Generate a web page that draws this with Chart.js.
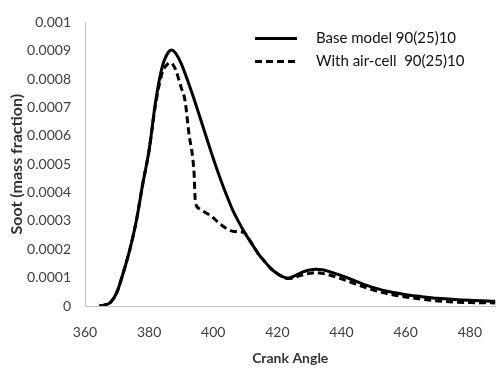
<!DOCTYPE html>
<html>
<head>
<meta charset="utf-8">
<script src="https://cdn.jsdelivr.net/npm/chart.js@4"></script>
<style>
  html, body { margin: 0; padding: 0; background: #fff; }
  #wrap { width: 500px; height: 369px; }
</style>
</head>
<body>
<div id="wrap"><canvas id="chart" width="500" height="369"></canvas></div>
<script>
// crank angle (deg) and soot mass fraction
const baseAngle = [364.5, 366, 368, 370, 372, 374, 376, 378, 380, 382, 384, 386, 387, 388, 390, 392, 394, 396, 398, 400, 402, 404, 406, 408, 410, 412, 414, 416, 418, 420, 422, 423, 424, 426, 428, 430, 432, 434, 436, 440, 445, 450, 455, 460, 465, 470, 475, 480, 488];
const baseSoot = [0, 0.000003, 0.000013, 0.00005, 0.00012, 0.0002, 0.0003, 0.00043, 0.00055, 0.00072, 0.00084, 0.000895, 0.000903, 0.000895, 0.000855, 0.000795, 0.00073, 0.00066, 0.00059, 0.00052, 0.000455, 0.000395, 0.00034, 0.000295, 0.000255, 0.00022, 0.000185, 0.000157, 0.000132, 0.000114, 0.000102, 0.000099, 0.0001, 0.00011, 0.00012, 0.000127, 0.00013, 0.000128, 0.000122, 0.000107, 0.000085, 0.000065, 0.00005, 0.00004, 0.000033, 0.000027, 0.000023, 0.00002, 0.000017];

const airAngle = [364.5, 366, 368, 370, 372, 374, 376, 378, 380, 382, 384, 385.5, 386.5, 388, 390, 391.2, 392.5, 393.4, 394, 394.4, 395.5, 397.5, 399.6, 402, 404.8, 406.5, 408.4, 410, 412, 414, 416, 418, 420, 422, 423, 424, 426, 428, 430, 432, 434, 436, 440, 445, 450, 455, 460, 465, 470, 475, 480, 488];
const airSoot = [0, 0.000003, 0.000013, 0.00005, 0.00012, 0.0002, 0.0003, 0.00043, 0.00055, 0.00071, 0.00082, 0.00085, 0.000858, 0.00084, 0.00077, 0.000724, 0.0006, 0.00054, 0.00047, 0.00037, 0.000344, 0.00033, 0.000315, 0.00029, 0.000269, 0.000263, 0.000262, 0.000255, 0.00022, 0.000185, 0.000157, 0.000132, 0.000114, 0.000101, 0.000097, 0.000097, 0.000103, 0.00011, 0.000115, 0.000118, 0.000115, 0.00011, 0.000096, 0.000075, 0.000056, 0.000042, 0.000032, 0.000024, 0.000018, 0.000014, 0.000012, 0.000011];

const seriesNames = ["Base model 90(25)10", "With air-cell  90(25)10"];
const xTicks = [360, 380, 400, 420, 440, 460, 480];

function toPoints(xs, ys) {
  return xs.map((x, i) => ({ x: x, y: ys[i] }));
}

// legend drawn inside the plot, top right, like the original
const innerLegend = {
  id: "innerLegend",
  afterDraw(chart) {
    const ctx = chart.ctx;
    const area = chart.chartArea;
    const x0 = area.left + 170;
    const y0 = area.top + 16;
    ctx.save();
    chart.data.datasets.forEach((ds, i) => {
      const y = y0 + i * 23;
      ctx.beginPath();
      ctx.lineWidth = ds.borderWidth;
      ctx.strokeStyle = ds.borderColor;
      ctx.setLineDash(ds.borderDash || []);
      ctx.moveTo(x0, y);
      ctx.lineTo(x0 + 42, y);
      ctx.stroke();
      ctx.setLineDash([]);
      ctx.fillStyle = "#111";
      ctx.font = "15px Lato";
      ctx.textBaseline = "middle";
      ctx.fillText(ds.label, x0 + 61, y);
    });
    ctx.restore();
  },
};

const ctx = document.getElementById("chart").getContext("2d");
new Chart(ctx, {
  type: "line",
  data: {
    datasets: [
      {
        label: seriesNames[0],
        data: toPoints(baseAngle, baseSoot),
        borderColor: "#000",
        borderWidth: 3,
        pointRadius: 0,
        cubicInterpolationMode: "monotone",
      },
      {
        label: seriesNames[1],
        data: toPoints(airAngle, airSoot),
        borderColor: "#000",
        borderWidth: 3,
        borderDash: [7, 4],
        pointRadius: 0,
        cubicInterpolationMode: "monotone",
      },
    ],
  },
  options: {
    responsive: false,
    animation: false,
    layout: { padding: { top: 17, right: 0, left: 0, bottom: 0 } },
    plugins: {
      legend: { display: false },
      tooltip: { enabled: false },
    },
    scales: {
      x: {
        type: "linear",
        min: 360,
        max: 488,
        afterBuildTicks: (scale) => {
          scale.ticks = xTicks.map((v) => ({ value: v }));
        },
        afterFit: (scale) => {
          scale.height = 63;
        },
        grid: { display: false, drawTicks: false },
        border: { display: true, color: "#bfbfbf", width: 1 },
        ticks: {
          color: "#404040",
          font: { family: "Lato", size: 14 },
          padding: 18,
          maxRotation: 0,
        },
        title: {
          display: true,
          text: "Crank Angle",
          color: "#333",
          font: { family: "Lato", size: 14, weight: "bold" },
          padding: { top: 0, bottom: 2 },
        },
      },
      y: {
        min: 0,
        max: 0.001,
        afterFit: (scale) => {
          scale.width = 85;
        },
        grid: { display: false, drawTicks: false },
        border: { display: true, color: "#bfbfbf", width: 1 },
        ticks: {
          stepSize: 0.0001,
          color: "#404040",
          font: { family: "Lato", size: 14 },
          padding: 14,
          callback: (v) => String(parseFloat(Number(v).toFixed(4))),
        },
        title: {
          display: true,
          text: "Soot (mass fraction)",
          color: "#333",
          font: { family: "Lato", size: 16, weight: "bold" },
          padding: { top: 7, bottom: 0 },
        },
      },
    },
  },
  plugins: [innerLegend],
});
</script>
</body>
</html>
